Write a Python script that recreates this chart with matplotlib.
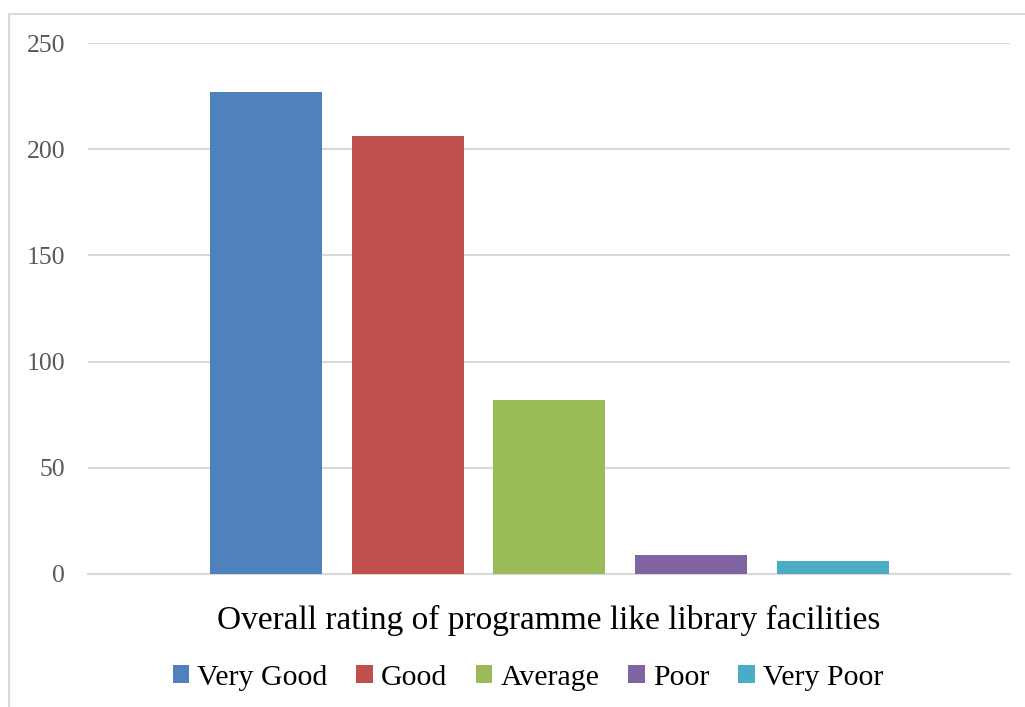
import matplotlib.pyplot as plt
import matplotlib.patches as mpatches
import numpy as np

# dados
categoria = 'Overall rating of programme like library facilities'
series = ['Very Good', 'Good', 'Average', 'Poor', 'Very Poor']
valores = [227, 206, 82, 9, 6]
cores = ['#4F81BD', '#C0504D', '#9BBB59', '#8064A2', '#4BACC6']
yticks = [0, 50, 100, 150, 200, 250]

plt.rcParams['font.family'] = ['Liberation Serif', 'DejaVu Serif']

fig = plt.figure(figsize=(10.25, 7.07), dpi=100)

# borda da área do gráfico (estilo Excel)
fig.patches.append(mpatches.Rectangle((9 / 1025, -0.05), 1.1, 1 - 14 / 707 + 0.05,
                                      transform=fig.transFigure, fill=False,
                                      edgecolor='#d9d9d9', linewidth=1.5))

ax = fig.add_axes([88 / 1025, 133 / 707, 922 / 1025, 531 / 707])

pos = np.arange(len(series))
barras = ax.bar(pos, valores, width=0.79, color=cores, zorder=3)

ax.set_xlim(-1.256, 5.25)
ax.set_ylim(0, 250)
ax.set_yticks(yticks)
ax.yaxis.grid(True, color='#d9d9d9', linewidth=1.5, zorder=0)
ax.set_xticks([])
ax.tick_params(axis='y', length=0, pad=16.5, labelsize=18.5, labelcolor='#595959')
for s in ['top', 'right', 'left']:
    ax.spines[s].set_visible(False)
ax.spines['bottom'].set_color('#d9d9d9')
ax.spines['bottom'].set_linewidth(1.5)

ax.set_xlabel(categoria, fontsize=24, color='black', labelpad=22)

fig.legend(barras, series, loc='center', bbox_to_anchor=(0.515, 1 - 678 / 707),
           ncol=5, frameon=False, fontsize=21.5, handlelength=0.55, handleheight=0.55,
           handletextpad=0.27, columnspacing=0.97)

fig.savefig('out.png', dpi=100)
